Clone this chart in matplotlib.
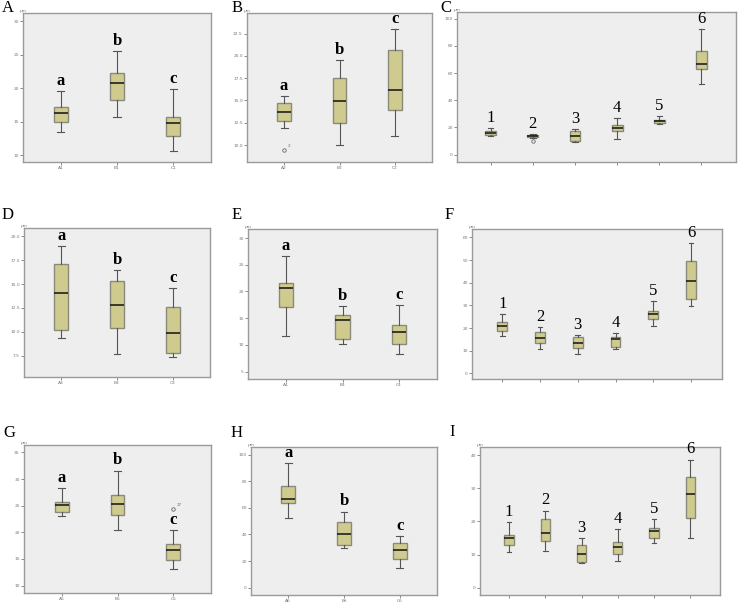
import matplotlib
matplotlib.use("Agg")
import matplotlib.pyplot as plt

W, H = 738, 602

# ---------------- data (box statistics, µm) ----------------
# Panel A
A_cats = ["A1", "B1", "C1"]
A_lo = [13.5, 15.7, 10.7]
A_q1 = [14.9, 18.3, 12.8]
A_med = [16.3, 20.7, 14.75]
A_q3 = [17.2, 22.2, 15.7]
A_hi = [19.6, 25.6, 19.85]
A_letters = ["a", "b", "c"]

# Panel B
B_cats = ["A2", "B2", "C2"]
B_lo = [11.95, 10.0, 11.0]
B_q1 = [12.75, 12.5, 13.95]
B_med = [13.7, 14.95, 16.2]
B_q3 = [14.75, 17.55, 20.67]
B_hi = [15.5, 19.55, 23.0]
B_out = [[9.5], [], []]
B_out_lab = [["2"], [], []]

# Panel C
C_cats = ["1", "2", "3", "4", "5", "6"]
C_lo = [13.5, 12.3, 9.6, 11.8, 22.8, 52.0]
C_q1 = [14.7, 13.0, 10.3, 17.2, 23.5, 63.2]
C_med = [16.2, 13.7, 14.0, 19.9, 24.8, 66.7]
C_q3 = [17.2, 14.7, 17.2, 21.6, 25.7, 76.0]
C_hi = [19.6, 15.2, 18.9, 26.7, 28.2, 92.4]
C_out = [[], [10.0], [], [], [], []]

# Panel D
D_cats = ["A3", "B3", "C3"]
D_lo = [9.35, 7.7, 7.36]
D_q1 = [10.2, 10.4, 7.8]
D_med = [14.06, 12.8, 9.86]
D_q3 = [17.1, 15.3, 12.6]
D_hi = [18.95, 16.47, 14.62]

# Panel E
E_cats = ["A4", "B4", "C4"]
E_lo = [11.6, 10.1, 8.3]
E_q1 = [17.1, 11.1, 10.2]
E_med = [20.6, 14.7, 12.4]
E_q3 = [21.6, 15.6, 13.75]
E_hi = [26.6, 17.2, 17.5]

# Panel F
F_lo = [16.4, 10.8, 8.6, 10.8, 21.1, 29.9]
F_q1 = [18.7, 13.3, 11.1, 11.7, 24.0, 32.7]
F_med = [21.1, 15.8, 13.3, 15.2, 26.3, 40.9]
F_q3 = [22.6, 18.1, 15.9, 15.9, 27.4, 49.4]
F_hi = [26.1, 20.4, 17.0, 17.6, 32.0, 57.5]

# Panel G
G_cats = ["A5", "B5", "C5"]
G_lo = [23.1, 20.4, 13.1]
G_q1 = [23.8, 23.25, 14.8]
G_med = [25.1, 25.4, 16.6]
G_q3 = [25.75, 27.1, 17.75]
G_hi = [28.3, 31.6, 20.4]
G_out = [[], [], [24.4]]
G_out_lab = [[], [], ["17"]]

# Panel H
H_cats = ["A6", "B6", "C6"]
H_lo = [52.5, 29.75, 14.5]
H_q1 = [63.75, 32.25, 21.25]
H_med = [66.75, 40.0, 28.0]
H_q3 = [76.5, 49.0, 33.25]
H_hi = [93.75, 57.25, 38.5]

# Panel I
I_lo = [10.65, 11.2, 7.4, 8.2, 13.4, 14.9]
I_q1 = [12.8, 14.2, 7.9, 10.25, 15.1, 21.2]
I_med = [15.0, 16.4, 10.05, 12.4, 17.0, 28.4]
I_q3 = [15.8, 20.9, 12.8, 13.8, 17.9, 33.3]
I_hi = [19.9, 23.3, 14.9, 17.7, 20.7, 38.7]

num_letters = ["1", "2", "3", "4", "5", "6"]
abc_letters = ["a", "b", "c"]

# ---------------- styling ----------------
BOX_FC = "#CFCB8F"
BOX_EC = "#8A8A7A"
BG = "#EEEEEE"
FRAME = "#9A9A9A"
SERIF = ["Liberation Serif", "DejaVu Serif"]

fig = plt.figure(figsize=(W / 100, H / 100), dpi=100)


def add_ax(l, t, r, b):
    return fig.add_axes([l / W, 1 - b / H, (r - l) / W, (b - t) / H])


def panel(rect, lo, q1, med, q3, hi, ylim, yticks, yfmt, letters, bold,
          cats=None, outs=None, out_labs=None):
    ax = add_ax(*rect)
    n = len(lo)
    stats = []
    for i in range(n):
        stats.append(dict(whislo=lo[i], q1=q1[i], med=med[i], q3=q3[i],
                          whishi=hi[i],
                          fliers=(outs[i] if outs else [])))
    pos = list(range(1, n + 1))
    w = 0.25 if n == 3 else 0.26
    ax.bxp(stats, positions=pos, widths=w, patch_artist=True,
           showfliers=True, capwidths=w * 0.5,
           boxprops=dict(facecolor=BOX_FC, edgecolor=BOX_EC, linewidth=1.0),
           medianprops=dict(color="#111111", linewidth=1.1),
           whiskerprops=dict(color="#555555", linewidth=0.8),
           capprops=dict(color="#555555", linewidth=0.8),
           flierprops=dict(marker="o", markersize=2.5, markerfacecolor="none",
                           markeredgecolor="#666666", markeredgewidth=0.6))
    ax.set_facecolor(BG)
    for s in ax.spines.values():
        s.set_color(FRAME)
        s.set_linewidth(1.0)
    ax.set_ylim(*ylim)
    ax.set_yticks(yticks)
    ax.set_yticklabels([yfmt.format(v) for v in yticks])
    if n == 3:
        ax.set_xlim(0.33, 3.67)
    else:
        ax.set_xlim(0.2, 6.82)
    ax.set_xticks(pos)
    if cats is not None:
        ax.set_xticklabels(cats)
    else:
        ax.set_xticklabels([""] * n)
    ax.tick_params(axis="both", labelsize=3.2, colors="#777777", length=2,
                   width=0.6, pad=1)
    # unit label
    ax.text(0.0, 1.0, "µm", transform=ax.transAxes, fontsize=3.2,
            color="#777777", ha="center", va="bottom")
    # significance letters / numbers
    for i in range(n):
        ax.annotate(letters[i], xy=(pos[i], hi[i]), xytext=(0, 1.5),
                    textcoords="offset points", ha="center", va="bottom",
                    fontsize=12, fontweight=("bold" if bold else "normal"),
                    family=SERIF, color="black")
    if outs and out_labs:
        for i in range(n):
            for v, lab in zip(outs[i], out_labs[i]):
                ax.annotate(lab, xy=(pos[i], v), xytext=(2.5, 1),
                            textcoords="offset points", fontsize=3,
                            color="#666666", ha="left", va="bottom")
    return ax


panel((23, 13, 211, 162), A_lo, A_q1, A_med, A_q3, A_hi, (9.0, 31.2),
      [10, 15, 20, 25, 30], "{:g}", abc_letters, True, cats=A_cats)
panel((247, 13, 432, 162), B_lo, B_q1, B_med, B_q3, B_hi, (8.1, 24.8),
      [10.0, 12.5, 15.0, 17.5, 20.0, 22.5], "{:.1f}", abc_letters, True,
      cats=B_cats, outs=B_out, out_labs=B_out_lab)
panel((457, 12, 736, 162), C_lo, C_q1, C_med, C_q3, C_hi, (-5.4, 104.9),
      [0, 20, 40, 60, 80, 100], "{:g}", num_letters, False, outs=C_out)
panel((24, 228, 210, 377), D_lo, D_q1, D_med, D_q3, D_hi, (5.26, 20.87),
      [7.5, 10.0, 12.5, 15.0, 17.5, 20.0], "{:.1f}", abc_letters, True,
      cats=D_cats)
panel((248, 229, 437, 379), E_lo, E_q1, E_med, E_q3, E_hi, (3.6, 31.7),
      [5, 10, 15, 20, 25, 30], "{:g}", abc_letters, True, cats=E_cats)
panel((472, 229, 722, 379), F_lo, F_q1, F_med, F_q3, F_hi, (-2.5, 63.7),
      [0, 10, 20, 30, 40, 50, 60], "{:g}", num_letters, False)
panel((24, 445, 211, 593), G_lo, G_q1, G_med, G_q3, G_hi, (8.6, 36.4),
      [10, 15, 20, 25, 30, 35], "{:g}", abc_letters, True, cats=G_cats,
      outs=G_out, out_labs=G_out_lab)
panel((251, 447, 437, 595), H_lo, H_q1, H_med, H_q3, H_hi, (-5.5, 105.75),
      [0, 20, 40, 60, 80, 100], "{:g}", abc_letters, True, cats=H_cats)
panel((480, 447, 720, 595), I_lo, I_q1, I_med, I_q3, I_hi, (-2.2, 42.5),
      [0, 10, 20, 30, 40], "{:g}", num_letters, False)

# panel letters
panel_labels = ["A", "B", "C", "D", "E", "F", "G", "H", "I"]
label_xy = [(8, 8), (237, 8), (446, 8), (8, 215), (237, 215), (449, 215),
            (9, 433), (237, 433), (452, 432)]
for lab, (x, y) in zip(panel_labels, label_xy):
    fig.text(x / W, 1 - y / H, lab, ha="center", va="center", fontsize=12,
             family=SERIF, color="black")

fig.savefig("out.png", dpi=100)
